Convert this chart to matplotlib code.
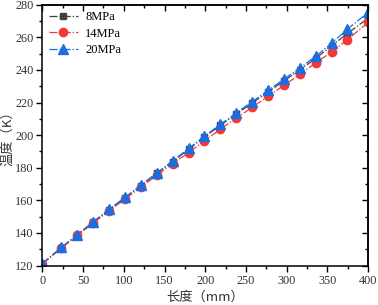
import matplotlib
matplotlib.use("Agg")
import matplotlib.pyplot as plt
from matplotlib.ticker import MultipleLocator

length_mm = [0, 23.5, 43, 62.5, 82, 101.5, 121, 140.5, 160, 179.5, 199,
             218.5, 238, 257.5, 277, 296.5, 316, 335.5, 355, 374.5, 400]
temp_8mpa = [121.1, 131.0, 138.8, 146.6, 154.3, 161.6, 169.0, 176.5, 183.8, 191.3, 198.8,
             206.1, 212.8, 219.7, 226.4, 233.3, 240.0, 247.0, 254.8, 262.3, 271.8]
temp_14mpa = [121.0, 130.7, 138.5, 146.0, 153.5, 160.8, 168.0, 175.3, 182.5, 189.3, 196.5,
              203.6, 210.4, 217.0, 223.8, 230.5, 237.2, 244.2, 251.0, 258.6, 269.1]
temp_20mpa = [121.2, 131.2, 139.0, 146.8, 154.5, 161.8, 169.3, 176.8, 184.2, 191.8, 199.3,
              206.6, 213.6, 220.5, 227.4, 234.3, 241.2, 248.3, 256.3, 265.0, 275.3]
labels = ["8MPa", "14MPa", "20MPa"]

serif = ["Liberation Serif", "DejaVu Serif"]
cjk = ["Noto Sans CJK SC", "DejaVu Sans"]

fig = plt.figure(figsize=(3.78, 3.05), dpi=100)
ax = fig.add_axes([0.112, 0.1295, 0.862, 0.855])

ax.plot(length_mm, temp_8mpa, linestyle="-.", color="#404040", lw=0.9,
        marker="s", ms=5, mec="#404040", mfc="#404040", label=labels[0])
ax.plot(length_mm, temp_14mpa, linestyle="-.", color="#f03a3a", lw=0.9,
        marker="o", ms=6, mec="#f03a3a", mfc="#f03a3a", label=labels[1])
ax.plot(length_mm, temp_20mpa, linestyle="-.", color="#1c6ee0", lw=0.9,
        marker="^", ms=6.5, mec="#1c6ee0", mfc="#1c6ee0", label=labels[2])

ax.set_xlim(0, 400)
ax.set_ylim(120, 280)
ax.xaxis.set_major_locator(MultipleLocator(50))
ax.xaxis.set_minor_locator(MultipleLocator(25))
ax.yaxis.set_major_locator(MultipleLocator(20))
ax.yaxis.set_minor_locator(MultipleLocator(10))
ax.tick_params(which="major", direction="out", length=4, width=1, labelsize=8.8, pad=2.5)
ax.tick_params(which="minor", direction="out", length=2.5, width=1)
for lab in ax.get_xticklabels() + ax.get_yticklabels():
    lab.set_family(serif)
    lab.set_color("#333333")
for s in ax.spines.values():
    s.set_linewidth(1.1)

secx = ax.secondary_xaxis("top")
secx.xaxis.set_major_locator(MultipleLocator(50))
secx.xaxis.set_minor_locator(MultipleLocator(25))
secx.tick_params(which="major", direction="in", length=4, width=1, labeltop=False)
secx.tick_params(which="minor", direction="in", length=2.5, width=1)
secx.spines["top"].set_linewidth(1.1)
secy = ax.secondary_yaxis("right")
secy.yaxis.set_major_locator(MultipleLocator(20))
secy.yaxis.set_minor_locator(MultipleLocator(10))
secy.tick_params(which="major", direction="in", length=4, width=1, labelright=False)
secy.tick_params(which="minor", direction="in", length=2.5, width=1)
secy.spines["right"].set_linewidth(1.1)

ax.set_xlabel("长度（mm）", family=cjk, fontsize=9.5, color="#333333")
ax.xaxis.set_label_coords(0.5, -0.095)
ax.set_ylabel("温度（K）", family=cjk, fontsize=9.5, color="#333333")
ax.yaxis.set_label_coords(-0.085, 0.5)

leg = ax.legend(loc="upper left", frameon=False, prop={"family": serif, "size": 9},
                handlelength=2.3, handletextpad=0.6, labelspacing=0.35,
                borderaxespad=0.0, borderpad=0.0, bbox_to_anchor=(0.02, 0.975))

fig.savefig("out.png", dpi=100)
